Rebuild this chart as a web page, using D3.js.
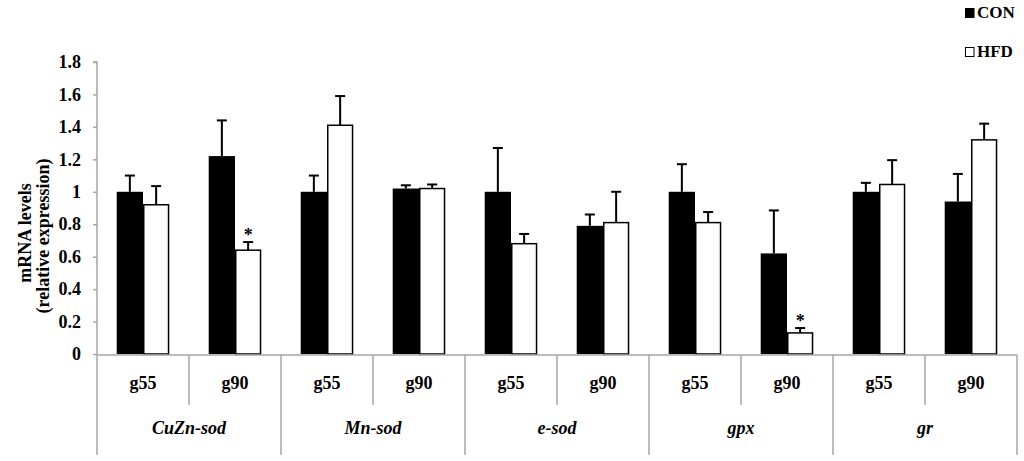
<!DOCTYPE html>
<html>
<head>
<meta charset="utf-8">
<script src="https://cdn.jsdelivr.net/npm/d3@7"></script>
<style>
  body { margin: 0; background: #fff; }
  text { font-family: "Liberation Serif", "Times New Roman", serif; font-weight: bold; fill: #000; }
</style>
</head>
<body>
<svg id="chart" width="1024" height="461"></svg>
<script>
// genes along the bottom, each split in two ages
const genes = ["CuZn-sod", "Mn-sod", "e-sod", "gpx", "gr"];
const ages = ["g55", "g90"];
const series = ["CON", "HFD"];

// values per gene/age pair, in order CuZn g55, CuZn g90, Mn g55, ...
const conValues = [1.0, 1.22, 1.0, 1.02, 1.0, 0.79, 1.0, 0.62, 1.0, 0.94];
const conErrors = [0.10, 0.22, 0.10, 0.02, 0.27, 0.07, 0.17, 0.265, 0.055, 0.17];
const hfdValues = [0.92, 0.64, 1.41, 1.02, 0.68, 0.81, 0.81, 0.13, 1.045, 1.32];
const hfdErrors = [0.115, 0.05, 0.18, 0.025, 0.06, 0.19, 0.065, 0.03, 0.15, 0.10];
const hfdStars = [false, true, false, false, false, false, false, true, false, false];

const yTicks = [0, 0.2, 0.4, 0.6, 0.8, 1, 1.2, 1.4, 1.6, 1.8];

const svg = d3.select("#chart");
const mLeft = 97, mRight = 1017, mTop = 62, mBottom = 354;

const groups = [];
genes.forEach(g => ages.forEach(a => groups.push(g + "|" + a)));

const x = d3.scaleBand().domain(groups).range([mLeft, mRight]);
const xs = d3.scaleBand().domain(series).range([0, x.bandwidth()]).paddingOuter(0.75).paddingInner(0);
const y = d3.scaleLinear().domain([0, 1.8]).range([mBottom, mTop]);

const axisColor = "#a6a6a6";

/* ------- Y AXIS -------*/
const yAxis = svg.append("g")
  .attr("transform", `translate(${mLeft},0)`)
  .call(d3.axisLeft(y).tickValues(yTicks).tickSize(4).tickPadding(12)
    .tickFormat(d => String(+d.toFixed(1))));
yAxis.select(".domain").attr("stroke", axisColor).attr("stroke-width", 1.5).attr("d", `M-4,${mTop}H0V${mBottom}`);
yAxis.selectAll(".tick line").attr("stroke", axisColor).attr("stroke-width", 1.5);
yAxis.selectAll(".tick text")
  .style("font-family", "'Liberation Serif', serif")
  .style("font-weight", "bold")
  .style("font-size", "18px")
  .attr("fill", "#000");

svg.append("text")
  .attr("transform", `translate(25,233) rotate(-90)`)
  .attr("text-anchor", "middle")
  .attr("dy", "0.35em")
  .style("font-size", "18px")
  .text("mRNA levels");
svg.append("text")
  .attr("transform", `translate(43,236) rotate(-90)`)
  .attr("text-anchor", "middle")
  .attr("dy", "0.35em")
  .style("font-size", "18px")
  .text("(relative expression)");

/* ------- BARS -------*/
const rows = groups.map((g, i) => ({
  key: g,
  bars: [
    { s: "CON", v: conValues[i], e: conErrors[i], star: false },
    { s: "HFD", v: hfdValues[i], e: hfdErrors[i], star: hfdStars[i] }
  ]
}));

const grp = svg.append("g").selectAll("g")
  .data(rows)
  .join("g")
  .attr("transform", d => `translate(${x(d.key)},0)`);

const bar = grp.selectAll("g.bar")
  .data(d => d.bars)
  .join("g")
  .attr("class", "bar");

// error bars first so the bar outline sits on top
bar.append("line")
  .attr("x1", d => xs(d.s) + xs.bandwidth() / 2)
  .attr("x2", d => xs(d.s) + xs.bandwidth() / 2)
  .attr("y1", d => y(d.v))
  .attr("y2", d => y(d.v + d.e))
  .attr("stroke", "#000")
  .attr("stroke-width", 2);
bar.append("line")
  .attr("x1", d => xs(d.s) + xs.bandwidth() / 2 - 5)
  .attr("x2", d => xs(d.s) + xs.bandwidth() / 2 + 5)
  .attr("y1", d => y(d.v + d.e))
  .attr("y2", d => y(d.v + d.e))
  .attr("stroke", "#000")
  .attr("stroke-width", 2);

bar.append("rect")
  .attr("x", d => xs(d.s) + (d.s === "HFD" ? 0.75 : 0))
  .attr("width", d => xs.bandwidth() - (d.s === "HFD" ? 1.5 : 0))
  .attr("y", d => y(d.v))
  .attr("height", d => y(0) - y(d.v))
  .attr("fill", d => d.s === "CON" ? "#000" : "#fff")
  .attr("stroke", "#000")
  .attr("stroke-width", d => d.s === "CON" ? 0 : 1.5);

bar.filter(d => d.star).append("text")
  .attr("x", d => xs(d.s) + xs.bandwidth() / 2)
  .attr("y", d => y(d.v + d.e) - 1)
  .attr("text-anchor", "middle")
  .style("font-size", "18px")
  .text("*");

/* ------- X AXIS (two level) -------*/
const xa = svg.append("g");
xa.append("line")
  .attr("x1", mLeft).attr("x2", mRight)
  .attr("y1", mBottom + 1).attr("y2", mBottom + 1)
  .attr("stroke", axisColor).attr("stroke-width", 1.5);

// separators: short between ages, long between genes
const seps = d3.range(groups.length + 1);
xa.selectAll("line.sep")
  .data(seps)
  .join("line")
  .attr("class", "sep")
  .attr("x1", i => i < groups.length ? x(groups[i]) : mRight)
  .attr("x2", i => i < groups.length ? x(groups[i]) : mRight)
  .attr("y1", mBottom + 1)
  .attr("y2", i => i % 2 === 0 ? 455 : 405)
  .attr("stroke", axisColor)
  .attr("stroke-width", 1.5);

xa.selectAll("text.age")
  .data(groups)
  .join("text")
  .attr("class", "age")
  .attr("x", g => x(g) + x.bandwidth() / 2)
  .attr("y", 389)
  .attr("text-anchor", "middle")
  .style("font-size", "18px")
  .text(g => g.split("|")[1]);

xa.selectAll("text.gene")
  .data(genes)
  .join("text")
  .attr("class", "gene")
  .attr("x", g => x(g + "|g55") + x.bandwidth())
  .attr("y", 434)
  .attr("text-anchor", "middle")
  .style("font-size", "18px")
  .style("font-style", "italic")
  .text(g => g);

/* ------- LEGEND -------*/
const legend = svg.append("g").selectAll("g")
  .data(series)
  .join("g")
  .attr("transform", (d, i) => `translate(965,${8 + i * 39})`);
legend.append("rect")
  .attr("x", 0.5).attr("y", 0.5)
  .attr("width", 8.5).attr("height", 9)
  .attr("fill", d => d === "CON" ? "#000" : "#fff")
  .attr("stroke", "#000")
  .attr("stroke-width", 1);
legend.append("text")
  .attr("x", 12)
  .attr("y", 10)
  .style("font-size", "17px")
  .text(d => d);
</script>
</body>
</html>
